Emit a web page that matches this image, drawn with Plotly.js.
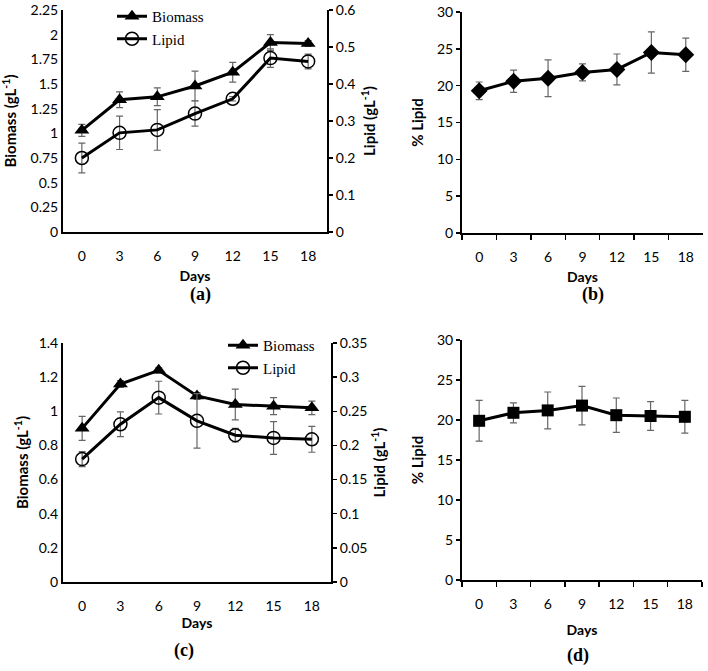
<!DOCTYPE html>
<html>
<head>
<meta charset="utf-8">
<script src="https://cdn.plot.ly/plotly-3.0.1.min.js"></script>
<style>html,body{margin:0;padding:0;background:#fff;}#chart{width:708px;height:671px;}</style>
</head>
<body>
<div id="chart"></div>
<script>
// ---- data ----
const days = ['0', '3', '6', '9', '12', '15', '18'];

// panel (a)
const biomassA = [1.03, 1.34, 1.37, 1.48, 1.62, 1.92, 1.91];
const biomassAErr = [0.06, 0.08, 0.09, 0.15, 0.10, 0.08, 0.03];
const lipidA = [0.20, 0.268, 0.276, 0.32, 0.36, 0.47, 0.461];
const lipidAErr = [0.04, 0.045, 0.055, 0.034, 0.006, 0.025, 0.02];

// panel (b)
const pctLipidB = [19.3, 20.6, 21.0, 21.8, 22.2, 24.5, 24.2];
const pctLipidBErr = [1.2, 1.5, 2.5, 1.15, 2.1, 2.8, 2.25];

// panel (c)
const biomassC = [0.90, 1.16, 1.24, 1.09, 1.04, 1.03, 1.02];
const biomassCErr = [0.07, 0.02, 0.015, 0.02, 0.09, 0.05, 0.04];
const lipidC = [0.18, 0.231, 0.27, 0.236, 0.215, 0.211, 0.209];
const lipidCErr = [0.011, 0.018, 0.024, 0.04, 0.01, 0.024, 0.019];

// panel (d)
const pctLipidD = [19.9, 20.9, 21.2, 21.8, 20.6, 20.5, 20.4];
const pctLipidDErr = [2.55, 1.25, 2.3, 2.4, 2.15, 1.8, 2.05];

// ---- styling ----
const W = 708, H = 671;
const px = v => v / W;
const py = v => 1 - v / H;
const errStyle = arr => ({type: 'data', array: arr, visible: true, color: '#666', thickness: 1.2, width: 3.5});
const lineStyle = {color: '#000', width: 3};
const tickFont = {family: 'Lato, sans-serif', size: 14, color: '#000'};
const titleFont = {family: 'Lato, sans-serif', size: 15, color: '#000', weight: 'bold'};
const daysFont = {family: 'Lato, sans-serif', size: 14, color: '#000', weight: 'bold'};

const traces = [
  {x: days, y: biomassA, error_y: errStyle(biomassAErr), xaxis: 'x', yaxis: 'y', name: 'Biomass',
   mode: 'lines+markers', line: lineStyle, marker: {symbol: 'triangle-up', size: 13, color: '#000'}, legend: 'legend'},
  {x: days, y: lipidA, error_y: errStyle(lipidAErr), xaxis: 'x', yaxis: 'y2', name: 'Lipid',
   mode: 'lines+markers', line: lineStyle, marker: {symbol: 'circle-open', size: 13, color: '#000', line: {width: 1.5}}, legend: 'legend'},
  {x: days, y: pctLipidB, error_y: errStyle(pctLipidBErr), xaxis: 'x2', yaxis: 'y3', name: '% Lipid',
   mode: 'lines+markers', line: lineStyle, marker: {symbol: 'diamond', size: 13, color: '#000'}, showlegend: false},
  {x: days, y: biomassC, error_y: errStyle(biomassCErr), xaxis: 'x3', yaxis: 'y4', name: 'Biomass',
   mode: 'lines+markers', line: lineStyle, marker: {symbol: 'triangle-up', size: 13, color: '#000'}, legend: 'legend2'},
  {x: days, y: lipidC, error_y: errStyle(lipidCErr), xaxis: 'x3', yaxis: 'y5', name: 'Lipid',
   mode: 'lines+markers', line: lineStyle, marker: {symbol: 'circle-open', size: 13, color: '#000', line: {width: 1.5}}, legend: 'legend2'},
  {x: days, y: pctLipidD, error_y: errStyle(pctLipidDErr), xaxis: 'x4', yaxis: 'y6', name: '% Lipid',
   mode: 'lines+markers', line: lineStyle, marker: {symbol: 'square', size: 12, color: '#000'}, showlegend: false}
];

function xAxis(domain, anchor, withTicks, standoff) {
  return {
    domain: domain, anchor: anchor, type: 'category', range: [-0.5, 6.5],
    showline: true, linecolor: '#000', linewidth: 2, showgrid: false, zeroline: false,
    ticks: withTicks ? 'outside' : '', ticklen: 5, tickwidth: 1.5, tickcolor: '#000',
    tickson: withTicks ? 'boundaries' : undefined,
    tickfont: tickFont, ticklabelstandoff: 10,
    title: {text: 'Days', font: daysFont, standoff: standoff}, fixedrange: true
  };
}
function yAxis(domain, anchor, range, dtick, title, standoff, opts) {
  return Object.assign({
    domain: domain, anchor: anchor, range: range, dtick: dtick,
    showline: true, linecolor: '#000', linewidth: 2, showgrid: false, zeroline: false,
    ticks: '', ticklen: 4, tickwidth: 1.5, tickcolor: '#000',
    tickfont: tickFont, title: {text: title, font: titleFont, standoff: standoff}, fixedrange: true
  }, opts || {});
}
const panelFont = {family: 'Liberation Serif, serif', size: 18, color: '#000'};
function panelLabel(t, x, y) {
  return {text: '<b>' + t + '</b>', x: px(x), y: py(y), xref: 'paper', yref: 'paper',
    xanchor: 'center', yanchor: 'middle', showarrow: false, font: panelFont};
}
const legendFont = {family: 'Liberation Serif, serif', size: 15, color: '#000'};

const layout = {
  width: W, height: H,
  margin: {l: 0, r: 0, t: 0, b: 0},
  paper_bgcolor: '#fff', plot_bgcolor: '#fff',
  font: {family: 'Lato, sans-serif', color: '#000'},
  // (a)
  xaxis: xAxis([px(63), px(327)], 'y', false, 8),
  yaxis: yAxis([py(232), py(10)], 'x', [0, 2.25], 0.25, 'Biomass (gL<sup>-1</sup>)', 12),
  yaxis2: yAxis([py(232), py(10)], 'x', [0, 0.6], 0.1, 'Lipid (gL<sup>-1</sup>)', 10,
    {overlaying: 'y', side: 'right', ticks: 'outside'}),
  // (b)
  xaxis2: xAxis([px(462), px(703)], 'y3', true, 8),
  yaxis3: yAxis([py(233), py(12)], 'x2', [0, 30], 5, '% Lipid', 10, {ticks: 'outside'}),
  // (c)
  xaxis3: xAxis([px(63), px(331)], 'y4', false, 5),
  yaxis4: yAxis([py(582), py(343)], 'x3', [0, 1.4], 0.2, 'Biomass (gL<sup>-1</sup>)', 6),
  yaxis5: yAxis([py(582), py(343)], 'x3', [0, 0.35], 0.05, 'Lipid (gL<sup>-1</sup>)', 8,
    {overlaying: 'y4', side: 'right', ticks: 'outside'}),
  // (d)
  xaxis4: xAxis([px(462), px(702)], 'y6', true, 14),
  yaxis6: yAxis([py(580), py(340)], 'x4', [0, 30], 5, '% Lipid', 10, {ticks: 'outside'}),
  legend: {x: px(112), y: py(0), xanchor: 'left', yanchor: 'top', bgcolor: 'rgba(0,0,0,0)',
    font: legendFont, itemwidth: 30, tracegroupgap: 0},
  legend2: {x: px(223), y: py(329), xanchor: 'left', yanchor: 'top', bgcolor: 'rgba(0,0,0,0)',
    font: legendFont, itemwidth: 30, tracegroupgap: 0},
  annotations: [
    panelLabel('(a)', 200, 294),
    panelLabel('(b)', 593, 294),
    panelLabel('(c)', 184, 650),
    panelLabel('(d)', 578, 655)
  ],
  showlegend: true
};

Plotly.newPlot('chart', traces, layout, {staticPlot: true, displayModeBar: false});
</script>
</body>
</html>
